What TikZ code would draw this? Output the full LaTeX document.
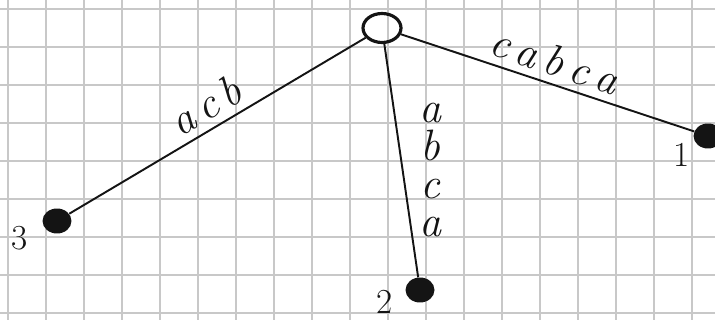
\documentclass[tikz,border=0pt]{standalone}
\usetikzlibrary{shapes.geometric}

\definecolor{skgrid}{RGB}{200,200,200}
\definecolor{skink}{RGB}{20,20,20}

\tikzset{
  gridline/.style={skgrid, line width=1.3pt},
  rootnode/.style={ellipse, draw=skink, line width=1.8pt, minimum width=0.76cm, minimum height=0.58cm, inner sep=0pt},
  leafnode/.style={ellipse, fill=skink, minimum width=0.58cm, minimum height=0.50cm, inner sep=0pt},
  edgeline/.style={skink, line width=1.1pt},
  edgelab/.style={skink, font=\fontsize{25}{21.6}\selectfont\itshape, inner sep=4pt},
  leafnum/.style={skink, font=\fontsize{20}{22}\selectfont}
}

\begin{document}
\begin{tikzpicture}[x=0.02cm, y=-0.02cm]
\useasboundingbox (0,0) rectangle (715,320);
%% squared paper
\foreach \gx in {8,46,...,710} \draw[gridline] (\gx,0) -- (\gx,320);
\foreach \gy in {9,47,...,315} \draw[gridline] (0,\gy) -- (715,\gy);

%% tree
\node[rootnode] (root) at (382,28) {};
\node[leafnode] (leaf3) at (57,221) {};
\node[leafnode] (leaf2) at (420,290) {};
\node[leafnode] (leaf1) at (708,136) {};

\draw[edgeline] (root) -- (leaf3) node[edgelab, midway, above, sloped] (lab3) {a\,c\,b};
\draw[edgeline] (root) -- (leaf1) node[edgelab, midway, above, sloped] (lab1) {c\,a\,b\,c\,a};
\draw[edgeline] (root) -- (leaf2);
\node[edgelab, align=center] (lab2) at (430,170) {a\\b\\c\\a};

%% leaf numbers
\node[leafnum] (num3) at (20,238) {3};
\node[leafnum] (num2) at (385,302) {2};
\node[leafnum] (num1) at (682,155) {1};
\end{tikzpicture}
\end{document}
